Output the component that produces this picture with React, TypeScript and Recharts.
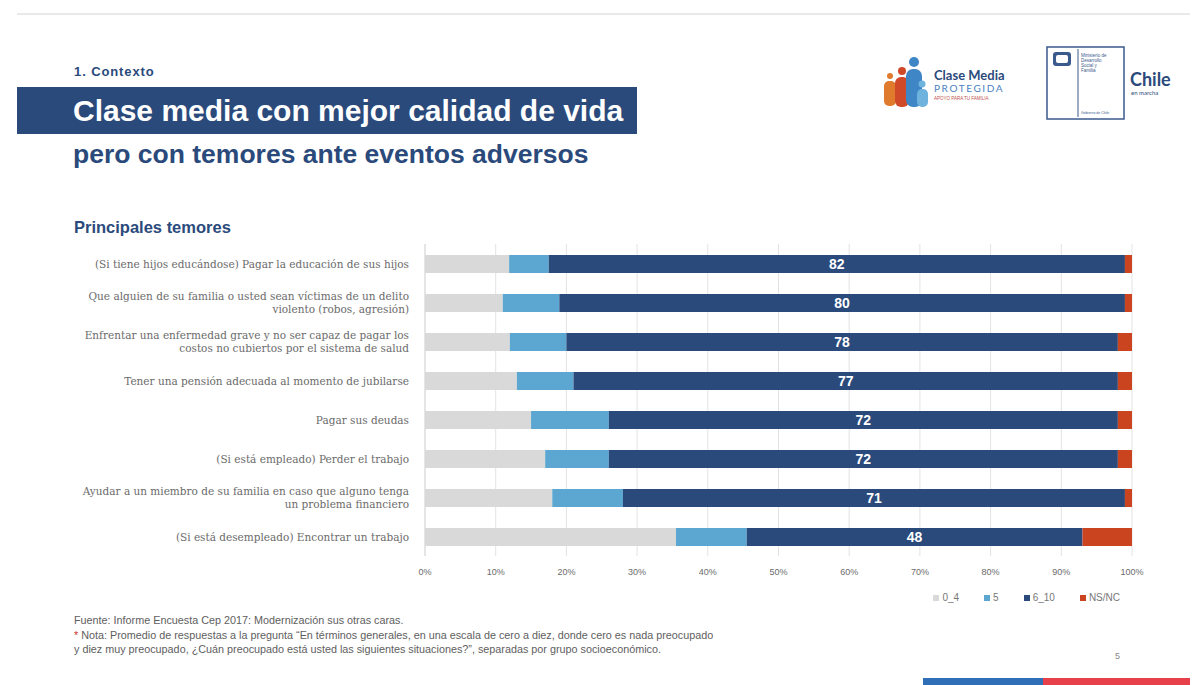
import { BarChart, Bar, XAxis, YAxis, CartesianGrid, Legend, LabelList } from "recharts";

const categories = [
  "(Si tiene hijos educándose) Pagar la educación de sus hijos",
  "Que alguien de su familia o usted sean víctimas de un delito|violento (robos, agresión)",
  "Enfrentar una enfermedad grave y no ser capaz de pagar los|costos no cubiertos por el sistema de salud",
  "Tener una pensión adecuada al momento de jubilarse",
  "Pagar sus deudas",
  "(Si está empleado) Perder el trabajo",
  "Ayudar a un miembro de su familia en caso que alguno tenga|un problema financiero",
  "(Si está desempleado) Encontrar un trabajo",
];

const bajo = [11.9, 11, 12, 13, 15, 17, 18, 35.5];
const cinco = [5.6, 8, 8, 8, 11, 9, 10, 10];
const alto = [81.5, 80, 78, 77, 72, 72, 71, 47.5];
const nsnc = [1, 1, 2, 2, 2, 2, 1, 7];

const xTicks = [0, 10, 20, 30, 40, 50, 60, 70, 80, 90, 100];

const data = categories.map((name, i) => ({
  name,
  bajo: bajo[i],
  cinco: cinco[i],
  alto: alto[i],
  nsnc: nsnc[i],
}));

const BLUE = "#2b4a7c";

function CategoryTick(props: any) {
  const { x, y, payload } = props;
  const lines: string[] = String(payload.value).split("|");
  const lh = 13;
  const start = y - ((lines.length - 1) * lh) / 2;
  return (
    <text
      x={x - 8}
      y={start}
      textAnchor="end"
      fill="#6b6b6b"
      fontSize={10.5}
      fontFamily="'DejaVu Serif', serif"
    >
      {lines.map((l, i) => (
        <tspan key={i} x={x - 8} y={start + i * lh} dominantBaseline="central">
          {l}
        </tspan>
      ))}
    </text>
  );
}

function LegendContent(props: any) {
  const items = props.payload || [];
  return (
    <div style={{ display: "flex", justifyContent: "flex-end", paddingTop: 6, paddingRight: 12 }}>
      {items.map((it: any) => (
        <div key={it.value} style={{ display: "flex", alignItems: "center", marginLeft: 25, fontSize: 10, color: "#777" }}>
          <span style={{ width: 6, height: 6, background: it.color, display: "inline-block", marginRight: 3 }} />
          {it.value}
        </div>
      ))}
    </div>
  );
}

function Logos() {
  return (
    <svg width={1201} height={140} style={{ position: "absolute", left: 0, top: 0 }}>
      <line x1={17} y1={14} x2={1190} y2={14} stroke="#e2e2e2" strokeWidth={1.5} />
      {/* Clase Media Protegida */}
      <circle cx={890} cy={76} r={3} fill="#e07a2c" />
      <rect x={884} y={81} width={12} height={25} rx={5} fill="#e07a2c" />
      <circle cx={902} cy={71} r={4} fill="#d04a2a" />
      <rect x={895} y={77} width={14} height={30} rx={6} fill="#d04a2a" />
      <circle cx={914} cy={62} r={5} fill="#3f86c6" />
      <rect x={906} y={69} width={16} height={38} rx={7} fill="#3f86c6" />
      <circle cx={922} cy={84} r={3.5} fill="#6db3de" />
      <rect x={917} y={89} width={11} height={18} rx={5} fill="#6db3de" />
      <text x={934} y={80} fontSize={13} fontWeight="bold" fill={BLUE} fontFamily="Lato, Arial, sans-serif">
        Clase Media
      </text>
      <text x={934} y={92} fontSize={10} fill="#4a7fbf" letterSpacing={1.6} fontFamily="Lato, Arial, sans-serif">
        PROTEGIDA
      </text>
      <text x={934} y={100} fontSize={4.5} fill="#c0504d" fontFamily="Arial, sans-serif">
        APOYO PARA TU FAMILIA
      </text>
      {/* Gobierno */}
      <rect x={1047} y={47} width={77} height={72} fill="none" stroke="#3a5a8c" strokeWidth={1.5} />
      <line x1={1078} y1={49} x2={1078} y2={117} stroke="#3a5a8c" strokeWidth={1} />
      <rect x={1053} y={52} width={18} height={14} rx={3} fill="#3a5a8c" />
      <rect x={1056} y={55} width={12} height={8} rx={2} fill="#ffffff" />
      <text x={1081} y={57} fontSize={4.5} fill="#3a5a8c" fontFamily="Arial, sans-serif">
        <tspan x={1081} dy={0}>Ministerio de</tspan>
        <tspan x={1081} dy={5}>Desarrollo</tspan>
        <tspan x={1081} dy={5}>Social y</tspan>
        <tspan x={1081} dy={5}>Familia</tspan>
      </text>
      <text x={1081} y={114} fontSize={3.5} fill="#3a5a8c" fontFamily="Arial, sans-serif">
        Gobierno de Chile
      </text>
      <text x={1130} y={86} fontSize={18} fontWeight="bold" fill={BLUE} fontFamily="Lato, Arial, sans-serif">
        Chile
      </text>
      <text x={1131} y={95} fontSize={6} fill={BLUE} fontFamily="Lato, Arial, sans-serif">
        en marcha
      </text>
    </svg>
  );
}

export default function App() {
  return (
    <div
      style={{
        position: "absolute",
        left: 0,
        top: 0,
        width: 1201,
        height: 685,
        background: "#ffffff",
        overflow: "hidden",
        fontFamily: "'Liberation Sans', Arial, sans-serif",
      }}
    >
      <Logos />
      <div
        style={{
          position: "absolute",
          left: 74,
          top: 64,
          fontSize: 13,
          color: BLUE,
          fontWeight: "bold",
          letterSpacing: 0.9,
        }}
      >
        1. Contexto
      </div>
      <div
        style={{
          position: "absolute",
          left: 17,
          top: 87,
          width: 620,
          height: 47,
          background: BLUE,
        }}
      />
      <div
        style={{
          position: "absolute",
          left: 73,
          top: 94,
          fontSize: 30,
          fontWeight: "bold",
          color: "#ffffff",
          whiteSpace: "nowrap",
        }}
      >
        Clase media con mejor calidad de vida
      </div>
      <div
        style={{
          position: "absolute",
          left: 73,
          top: 139,
          fontSize: 26.5,
          fontWeight: "bold",
          color: BLUE,
          whiteSpace: "nowrap",
        }}
      >
        pero con temores ante eventos adversos
      </div>
      <div style={{ position: "absolute", left: 74, top: 218, fontSize: 16.5, fontWeight: "bold", color: BLUE }}>
        Principales temores
      </div>

      <div style={{ position: "absolute", left: 0, top: 230 }}>
        <BarChart
          width={1150}
          height={378}
          data={data}
          layout="vertical"
          barSize={18}
          margin={{ top: 14, right: 18, left: 0, bottom: 0 }}
        >
          <CartesianGrid horizontal={false} stroke="#e3e3e3" />
          <XAxis
            type="number"
            domain={[0, 100]}
            ticks={xTicks}
            tickFormatter={(v) => `${v}%`}
            axisLine={false}
            tickLine={false}
            tick={{ fontSize: 9, fill: "#6b6b6b" }}
            tickMargin={7}
            height={30}
          />
          <YAxis
            type="category"
            dataKey="name"
            width={425}
            axisLine={{ stroke: "#d9d9d9" }}
            tickLine={false}
            tick={<CategoryTick />}
            interval={0}
          />
          <Legend verticalAlign="bottom" align="right" height={22} content={<LegendContent />} />
          <Bar dataKey="bajo" name="0_4" stackId="a" fill="#d9d9d9" isAnimationActive={false} />
          <Bar dataKey="cinco" name="5" stackId="a" fill="#5ba7d1" isAnimationActive={false} />
          <Bar dataKey="alto" name="6_10" stackId="a" fill="#2a4a7b" isAnimationActive={false}>
            <LabelList
              dataKey="alto"
              position="center"
              fill="#ffffff"
              fontSize={14}
              fontWeight="bold"
              formatter={(v: any) => Math.round(Number(v))}
            />
          </Bar>
          <Bar dataKey="nsnc" name="NS/NC" stackId="a" fill="#c9441f" isAnimationActive={false} />
        </BarChart>
      </div>

      <div style={{ position: "absolute", left: 74, top: 613, fontSize: 10.8, color: "#5e5e5e", lineHeight: "14.5px", whiteSpace: "nowrap" }}>
        <div>Fuente: Informe Encuesta Cep 2017: Modernización sus otras caras.</div>
        <div>
          <span style={{ color: "#d03030" }}>*</span> Nota: Promedio de respuestas a la pregunta “En términos generales, en
          una escala de cero a diez, donde cero es nada preocupado
        </div>
        <div>
          y diez muy preocupado, ¿Cuán preocupado está usted las siguientes situaciones?”, separadas por grupo
          socioeconómico.
        </div>
      </div>
      <div style={{ position: "absolute", left: 1115, top: 651, fontSize: 9, color: "#888" }}>5</div>
      <div style={{ position: "absolute", left: 923, top: 678, width: 120, height: 7, background: "#2f6fb8" }} />
      <div style={{ position: "absolute", left: 1043, top: 678, width: 147, height: 7, background: "#e8404a" }} />
    </div>
  );
}
